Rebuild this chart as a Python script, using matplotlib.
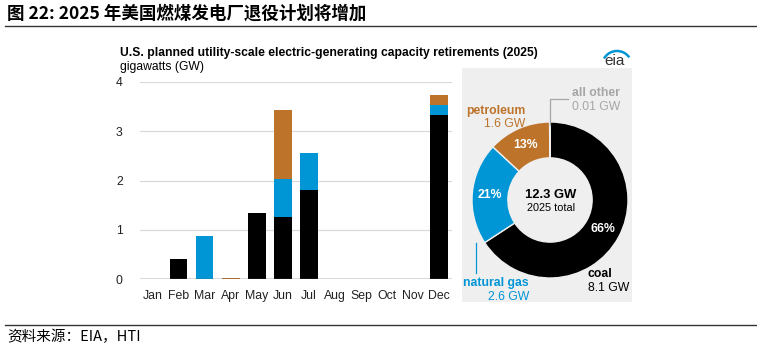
import matplotlib
matplotlib.use("Agg")
import matplotlib.pyplot as plt
import numpy as np
from matplotlib.patches import Rectangle, Arc
from matplotlib.lines import Line2D

# ---- data ----
months = ["Jan", "Feb", "Mar", "Apr", "May", "Jun", "Jul", "Aug", "Sep", "Oct", "Nov", "Dec"]
coal = [0, 0.41, 0, 0, 1.34, 1.27, 1.80, 0, 0, 0, 0, 3.32]
natural_gas = [0, 0, 0.87, 0, 0, 0.76, 0.76, 0, 0, 0, 0, 0.21]
petroleum = [0, 0, 0, 0.03, 0, 1.40, 0, 0, 0, 0, 0, 0.21]
yticks = [0, 1, 2, 3, 4]

donut_labels = ["coal", "natural gas", "petroleum", "all other"]
donut_values = [8.1, 2.6, 1.6, 0.01]
total_gw = 12.3

C_COAL = "#000000"
C_GAS = "#0096D6"
C_PET = "#BD732A"
C_OTHER = "#A6A6A6"

W, H = 757, 350
fig = plt.figure(figsize=(W / 100, H / 100), dpi=100)
CJK = ["Noto Sans CJK SC", "DejaVu Sans"]
ARIAL = ["Liberation Sans", "DejaVu Sans"]


def fx(x):
    return x / W


def fy(y):
    return 1 - y / H


def ftext(x, y, s, **kw):
    fig.text(fx(x), fy(y), s, **kw)


# header
ftext(7, 14, "图 22: 2025 年美国燃煤发电厂退役计划将增加", family=CJK,
      fontsize=12.6, fontweight="bold", va="center", ha="left")
fig.add_artist(Line2D([fx(5), fx(757)], [fy(26), fy(26)], color="#333333", lw=1.0))
fig.add_artist(Line2D([fx(5), fx(757)], [fy(325), fy(325)], color="#333333", lw=1.0))
ftext(7, 337, "资料来源：EIA，HTI", family=CJK, fontsize=10.5, va="center", ha="left")

# chart title
ftext(120, 53, "U.S. planned utility-scale electric-generating capacity retirements (2025)",
      family=ARIAL, fontsize=8.7, fontweight="bold", va="center", ha="left")
ftext(120, 67, "gigawatts (GW)", family=ARIAL, fontsize=8.7, va="center", ha="left")

# ---- bar chart ----
ax = fig.add_axes([fx(139.5), fy(279.3), fx(452 - 139.5), (279.3 - 81.7) / H])
x = np.arange(len(months))
bw = 0.68
ax.bar(x, coal, bw, color=C_COAL, zorder=3)
ax.bar(x, natural_gas, bw, bottom=coal, color=C_GAS, zorder=3)
bottom2 = np.array(coal) + np.array(natural_gas)
ax.bar(x, petroleum, bw, bottom=bottom2, color=C_PET, zorder=3)
ax.set_xlim(-0.5, 11.5)
ax.set_ylim(0, 4)
ax.set_yticks(yticks)
ax.set_xticks(x)
ax.set_xticklabels(months)
for sp in ax.spines.values():
    sp.set_visible(False)
ax.grid(axis="y", color="#D9D9D9", lw=0.9, zorder=0)
ax.axhline(0, color="#595959", lw=1.0, zorder=4)
ax.tick_params(axis="both", length=0, labelsize=8.8, colors="#222222", pad=8)
ax.tick_params(axis="y", pad=12)
for lab in ax.get_xticklabels() + ax.get_yticklabels():
    lab.set_family(ARIAL)
ax.set_facecolor("none")

# ---- donut panel ----
fig.add_artist(Rectangle((fx(462), fy(302)), fx(632 - 462), (302 - 68) / H,
                         transform=fig.transFigure, facecolor="#EFEFEF", edgecolor="none", zorder=0))

cx, cy, R = 550, 200, 78
half = 85
ax2 = fig.add_axes([fx(cx - half), fy(cy + half), fx(2 * half), 2 * half / H])
lim = half / R
ax2.set_aspect("equal")
ax2.axis("off")
wedges, _, autotexts = ax2.pie(
    donut_values, colors=[C_COAL, C_GAS, C_PET, C_OTHER], startangle=90, counterclock=False,
    radius=1, wedgeprops=dict(width=0.46, edgecolor="#EFEFEF", linewidth=1.0),
    autopct=lambda p: f"{p:.0f}%" if p > 5 else "", pctdistance=0.77,
    textprops=dict(color="white", fontsize=8.8, fontweight="bold", family=ARIAL))
ax2.set_xlim(-lim, lim)
ax2.set_ylim(-lim, lim)

ftext(551, 195, f"{total_gw} GW", family=ARIAL, fontsize=9.4, fontweight="bold", ha="center", va="center")
ftext(551, 208, "2025 total", family=ARIAL, fontsize=7.8, ha="center", va="center")

ftext(525, 111, donut_labels[2], family=ARIAL, fontsize=8.8, fontweight="bold", color=C_PET, ha="right", va="center")
ftext(525, 124, f"{donut_values[2]} GW", family=ARIAL, fontsize=8.8, color=C_PET, ha="right", va="center")

ftext(572, 93, donut_labels[3], family=ARIAL, fontsize=8.8, fontweight="bold", color=C_OTHER, ha="left", va="center")
ftext(572, 107, f"{donut_values[3]} GW", family=ARIAL, fontsize=8.8, color=C_OTHER, ha="left", va="center")
fig.add_artist(Line2D([fx(550), fx(550), fx(568)], [fy(125), fy(99), fy(99)], color=C_OTHER, lw=0.9))

ftext(529, 283, donut_labels[1], family=ARIAL, fontsize=8.8, fontweight="bold", color=C_GAS, ha="right", va="center")
ftext(529, 297, f"{donut_values[1]} GW", family=ARIAL, fontsize=8.8, color=C_GAS, ha="right", va="center")
fig.add_artist(Line2D([fx(476), fx(476)], [fy(243), fy(273)], color=C_GAS, lw=0.9))

ftext(588, 274, donut_labels[0], family=ARIAL, fontsize=8.8, fontweight="bold", color=C_COAL, ha="left", va="center")
ftext(588, 288, f"{donut_values[0]} GW", family=ARIAL, fontsize=8.8, color=C_COAL, ha="left", va="center")

# eia logo
ftext(615, 61, "eia", family=ARIAL, fontsize=11, color="#333333", ha="center", va="center")
lax = fig.add_axes([fx(600), fy(64), fx(32), 20 / H])
lax.axis("off")
lax.set_xlim(0, 32)
lax.set_ylim(0, 20)
lax.add_patch(Arc((17, -2), 30, 30, theta1=35, theta2=150, color=C_GAS, lw=1.8))

fig.savefig("out.png", dpi=100)
